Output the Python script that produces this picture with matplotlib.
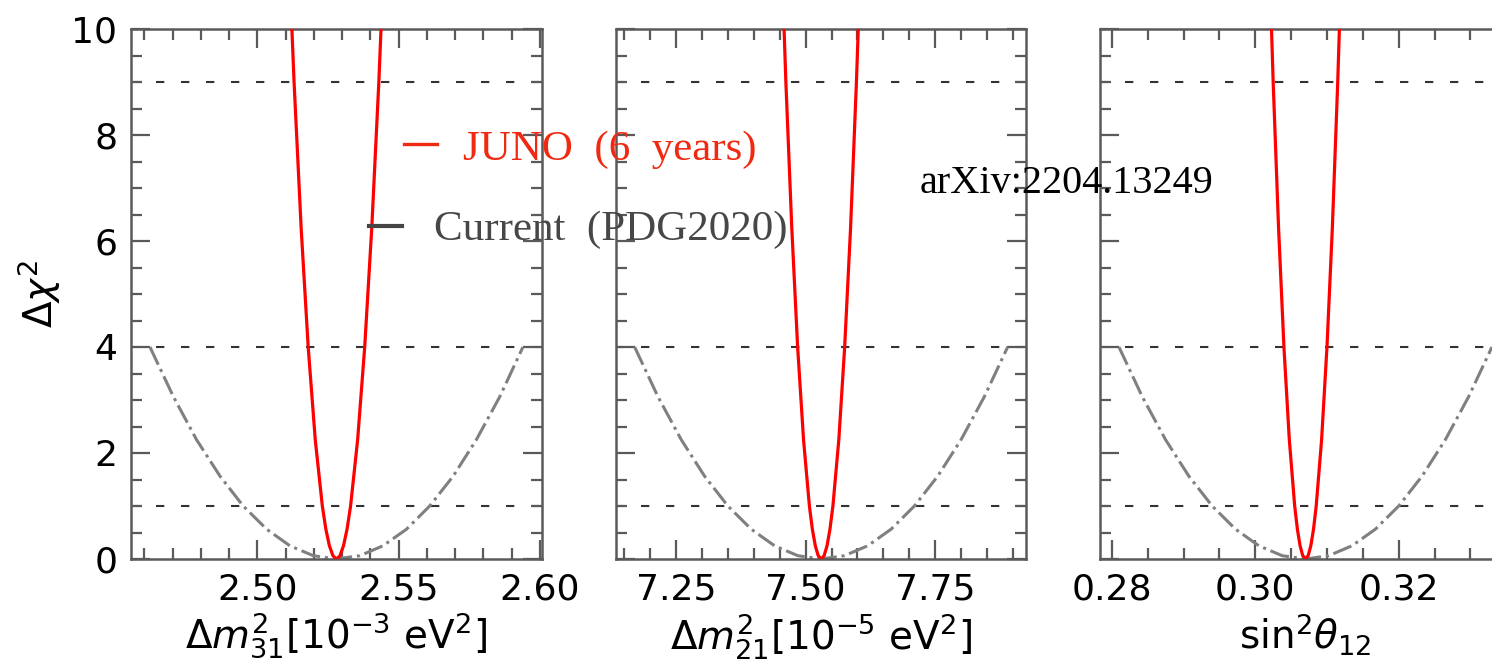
import matplotlib
matplotlib.use("Agg")
import matplotlib.pyplot as plt
from matplotlib.lines import Line2D
from matplotlib.ticker import MultipleLocator, FormatStrFormatter

# ---------------- data ----------------
# Delta chi^2 levels at which curve positions were read
chi2_gray = [4.0, 3.0625, 2.25, 1.5625, 1.0, 0.5625, 0.25, 0.0625, 0.0,
             0.0625, 0.25, 0.5625, 1.0, 1.5625, 2.25, 3.0625, 4.0]
chi2_red = [12.25, 9.0, 6.25, 4.0, 2.25, 1.0, 0.5625, 0.25, 0.0625, 0.0,
            0.0625, 0.25, 0.5625, 1.0, 2.25, 4.0, 6.25, 9.0, 12.25]

# Panel 1: Delta m^2_31 [1e-3 eV^2]
dm31_current = [2.462, 2.4703, 2.4785, 2.4868, 2.495, 2.5033, 2.5115, 2.5198, 2.528,
                2.5363, 2.5445, 2.5528, 2.561, 2.5693, 2.5775, 2.5858, 2.594]
dm31_juno = [2.5105, 2.513, 2.5155, 2.518, 2.5205, 2.523, 2.52425, 2.5255, 2.52675, 2.528,
             2.52925, 2.5305, 2.53175, 2.533, 2.5355, 2.538, 2.5405, 2.543, 2.5455]

# Panel 2: Delta m^2_21 [1e-5 eV^2]
dm21_current = [7.17, 7.215, 7.26, 7.305, 7.35, 7.395, 7.44, 7.485, 7.53,
                7.575, 7.62, 7.665, 7.71, 7.755, 7.80, 7.845, 7.89]
dm21_juno = [7.4506, 7.4619, 7.4733, 7.4846, 7.4960, 7.5073, 7.5130, 7.5187, 7.5243, 7.53,
             7.5357, 7.5414, 7.5470, 7.5527, 7.5641, 7.5754, 7.5868, 7.5981, 7.6095]

# Panel 3: sin^2 theta_12
s12_current = [0.281, 0.28425, 0.2875, 0.29075, 0.294, 0.29725, 0.3005, 0.30375, 0.307,
               0.31025, 0.3135, 0.31675, 0.32, 0.32325, 0.3265, 0.32975, 0.333]
s12_juno = [0.30175, 0.3025, 0.30325, 0.304, 0.30475, 0.3055, 0.305875, 0.30625, 0.306625, 0.307,
            0.307375, 0.30775, 0.308125, 0.3085, 0.30925, 0.31, 0.31075, 0.3115, 0.31225]

ref_levels = [1, 4, 9]

xlabels = [r'$\Delta m^2_{31}[10^{-3}\ \mathrm{eV}^2]$',
           r'$\Delta m^2_{21}[10^{-5}\ \mathrm{eV}^2]$',
           r'$\mathrm{sin}^2\theta_{12}$']
ylabel = r'$\Delta\chi^2$'
legend_labels = ['JUNO  (6  years)', 'Current  (PDG2020)']
source_text = 'arXiv:2204.13249'

panels = [
    dict(cur=dm31_current, juno=dm31_juno, xlim=(2.4554, 2.6006), major=0.05, minor=0.01, fmt='%.2f'),
    dict(cur=dm21_current, juno=dm21_juno, xlim=(7.134, 7.926), major=0.25, minor=0.05, fmt='%.2f'),
    dict(cur=s12_current, juno=s12_juno, xlim=(0.2784, 0.3356), major=0.02, minor=0.005, fmt='%.2f'),
]

# ---------------- figure ----------------
W, H = 1492, 662
plt.rcParams['mathtext.fontset'] = 'dejavusans'
fig = plt.figure(figsize=(W / 100, H / 100), dpi=100)

ax_bottom = (H - 559) / H
ax_height = 530 / H
ax_width = 410.3 / W
lefts = [131.3 / W, 616.0 / W, 1100.3 / W]

spine_col = '#5a5a5a'
for i, (p, lx) in enumerate(zip(panels, lefts)):
    ax = fig.add_axes([lx, ax_bottom, ax_width, ax_height])
    for lvl in ref_levels:
        ax.axhline(lvl, color='#333333', lw=1.5, linestyle=(0, (4.0, 8.0)), zorder=1)
    ax.plot(p['cur'], chi2_gray, color='#808080', lw=2.2, linestyle='-.', zorder=2)
    ax.plot(p['juno'], chi2_red, color='#ff0000', lw=2.3, zorder=3)
    ax.set_xlim(*p['xlim'])
    ax.set_ylim(0, 10)
    ax.xaxis.set_major_locator(MultipleLocator(p['major']))
    ax.xaxis.set_minor_locator(MultipleLocator(p['minor']))
    ax.yaxis.set_major_locator(MultipleLocator(2))
    ax.yaxis.set_minor_locator(MultipleLocator(0.5))
    ax.xaxis.set_major_formatter(FormatStrFormatter(p['fmt']))
    ax.tick_params(which='both', direction='in', top=True, right=True,
                   color=spine_col, labelsize=26, pad=10)
    ax.tick_params(which='major', length=14, width=1.6)
    ax.tick_params(which='minor', length=8, width=1.6)
    for s in ax.spines.values():
        s.set_color(spine_col)
        s.set_linewidth(1.8)
    ax.set_xlabel(xlabels[i], fontsize=28, labelpad=3)
    if i == 0:
        ax.set_ylabel(ylabel, fontsize=28, labelpad=6)
    else:
        ax.tick_params(labelleft=False)


def fx(px):
    return px / W


def fy(py):
    return (H - py) / H


# legend-like annotations
red_txt = '#f02a12'
gray_txt = '#474747'
fig.add_artist(Line2D([fx(404.3), fx(437.3)], [fy(144.3), fy(144.3)],
                      transform=fig.transFigure, color=red_txt, lw=2.4))
fig.add_artist(Line2D([fx(369.3), fx(402.3)], [fy(225.7), fy(225.7)],
                      transform=fig.transFigure, color='#444444', lw=3.0))
fig.text(fx(463.3), fy(160), legend_labels[0], color=red_txt, fontsize=31,
         family='Liberation Serif', va='baseline', ha='left')
fig.text(fx(434), fy(240), legend_labels[1], color=gray_txt, fontsize=31,
         family='Liberation Serif', va='baseline', ha='left')
fig.text(fx(920), fy(193.3), source_text, color='black', fontsize=29,
         family='Liberation Serif', va='baseline', ha='left')

fig.savefig('out.png', dpi=100)
